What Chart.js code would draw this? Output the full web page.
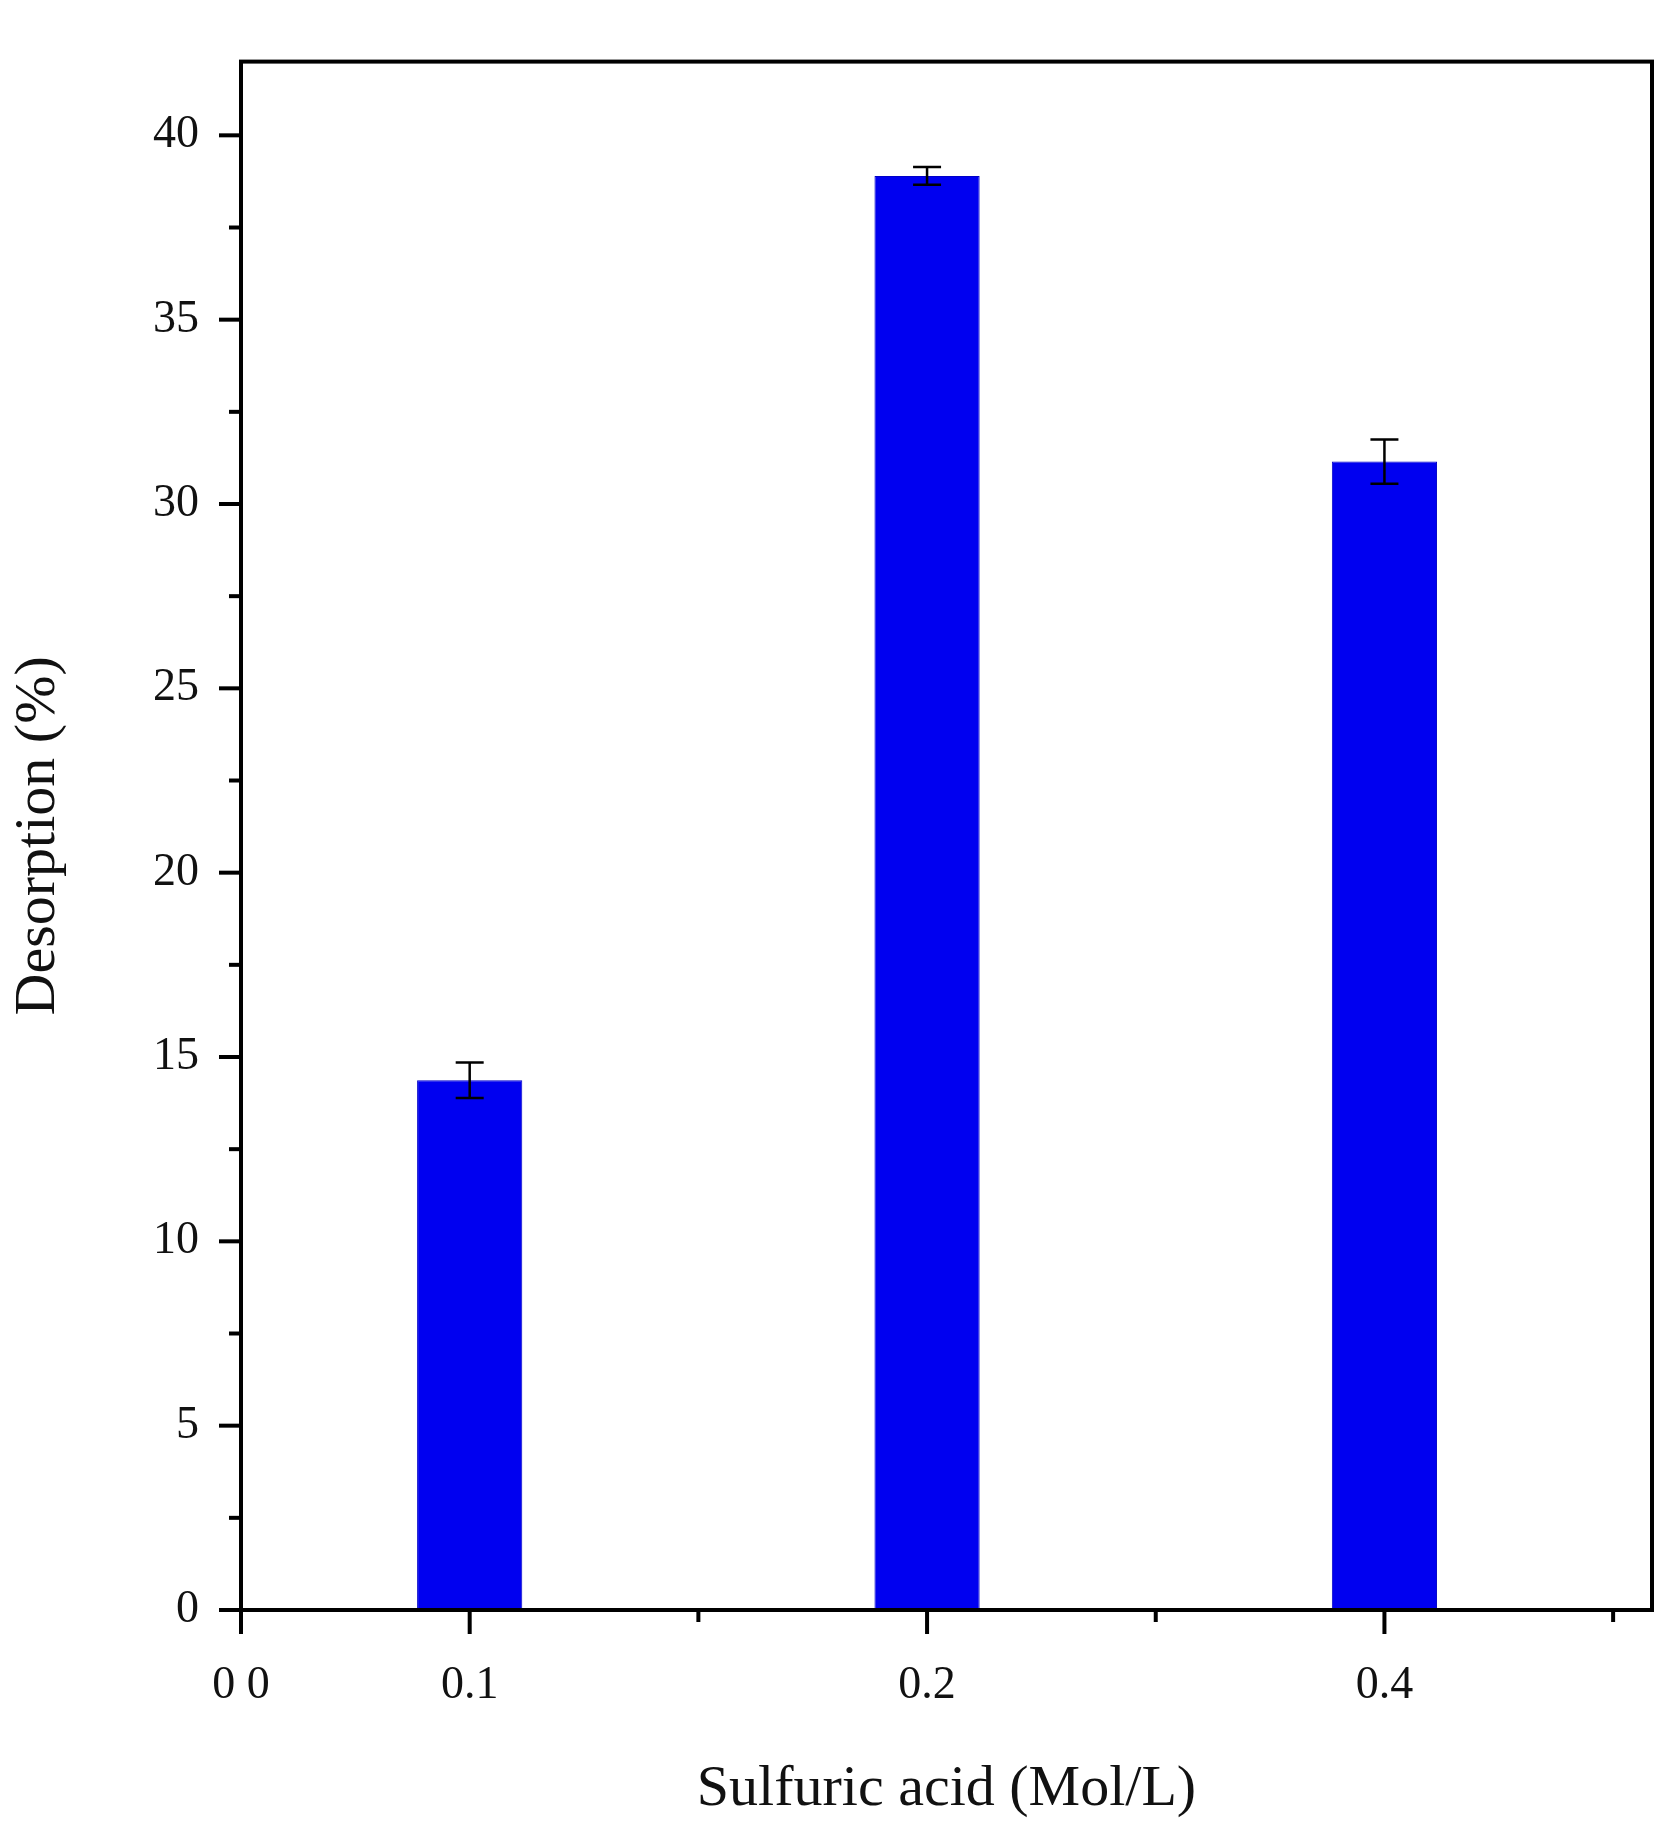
<!DOCTYPE html>
<html><head><meta charset="utf-8">
<script src="https://cdn.jsdelivr.net/npm/chart.js@4"></script>
<style>html,body{margin:0;padding:0;background:#fff}#w{width:1678px;height:1829px}</style>
</head><body><div id="w"><canvas id="c"></canvas></div>
<script>
const categories = ['0.1', '0.2', '0.4'];
const desorption = [14.37, 38.9, 31.15];
const errors = [0.48, 0.24, 0.6];
const xTickLabels = ['0 0', '0.1', '0.2', '0.4'];
const xTickPositions = [-0.5, 0, 1, 2];
const yMajorTicks = [0, 5, 10, 15, 20, 25, 30, 35, 40];

const FONT = '"Liberation Serif", "DejaVu Serif", serif';

const framePlugin = {
  id: 'frame',
  afterDatasetsDraw(chart) {
    const {ctx, chartArea: a, scales: {x, y}} = chart;
    ctx.save();
    ctx.strokeStyle = '#000'; ctx.lineWidth = 2.5;
    desorption.forEach((v, i) => {
      const px = x.getPixelForValue(i);
      const t = y.getPixelForValue(v + errors[i]);
      const b = y.getPixelForValue(v - errors[i]);
      ctx.beginPath();
      ctx.moveTo(px, t); ctx.lineTo(px, b);
      ctx.moveTo(px - 14, t); ctx.lineTo(px + 14, t);
      ctx.moveTo(px - 14, b); ctx.lineTo(px + 14, b);
      ctx.stroke();
    });
    ctx.lineWidth = 4;
    ctx.strokeRect(a.left, a.top, a.right - a.left, a.bottom - a.top);
    for (let v = 0; v <= 40; v += 2.5) {
      const py = y.getPixelForValue(v);
      const major = v % 5 === 0;
      ctx.beginPath();
      ctx.moveTo(a.left, py); ctx.lineTo(a.left - (major ? 22 : 12), py);
      ctx.stroke();
    }
    [-0.5, 0, 0.5, 1, 1.5, 2, 2.5].forEach(v => {
      const px = x.getPixelForValue(v);
      const major = xTickPositions.includes(v);
      ctx.beginPath();
      ctx.moveTo(px, a.bottom); ctx.lineTo(px, a.bottom + (major ? 24 : 12));
      ctx.stroke();
    });
    ctx.restore();
  }
};

new Chart(document.getElementById('c'), {
  type: 'bar',
  data: {
    datasets: [{
      data: categories.map((c, i) => ({x: i, y: desorption[i]})),
      backgroundColor: '#0000f0',
      borderColor: '#0000c8',
      borderWidth: 1,
      barPercentage: 0.46,
      categoryPercentage: 1
    }]
  },
  options: {
    responsive: true, maintainAspectRatio: false, animation: false,
    layout: {padding: {top: 29, right: 26, left: 0, bottom: 0}},
    plugins: {legend: {display: false}, tooltip: {enabled: false}},
    scales: {
      x: {
        type: 'linear', min: -0.5, max: 2.585, offset: false,
        afterBuildTicks: s => { s.ticks = xTickPositions.map(v => ({value: v})); },
        afterFit: s => { s.height = 219; },
        grid: {display: false, offset: false}, border: {display: false},
        ticks: {
          callback: (v) => xTickLabels[xTickPositions.indexOf(v)],
          font: {family: FONT, size: 46}, color: '#111', padding: 40, maxRotation: 0, autoSkip: false
        },
        title: {display: true, text: 'Sulfuric acid (Mol/L)', font: {family: FONT, size: 58}, color: '#111', padding: {top: 28}}
      },
      y: {
        min: 0, max: 42.0,
        afterBuildTicks: s => { s.ticks = yMajorTicks.map(v => ({value: v})); },
        afterFit: s => { s.width = 241; },
        grid: {display: false}, border: {display: false},
        ticks: {font: {family: FONT, size: 46}, color: '#111', padding: 34},
        title: {display: true, text: 'Desorption (%)', font: {family: FONT, size: 58}, color: '#111', padding: {bottom: 10}}
      }
    }
  },
  plugins: [framePlugin]
});
</script></body></html>
